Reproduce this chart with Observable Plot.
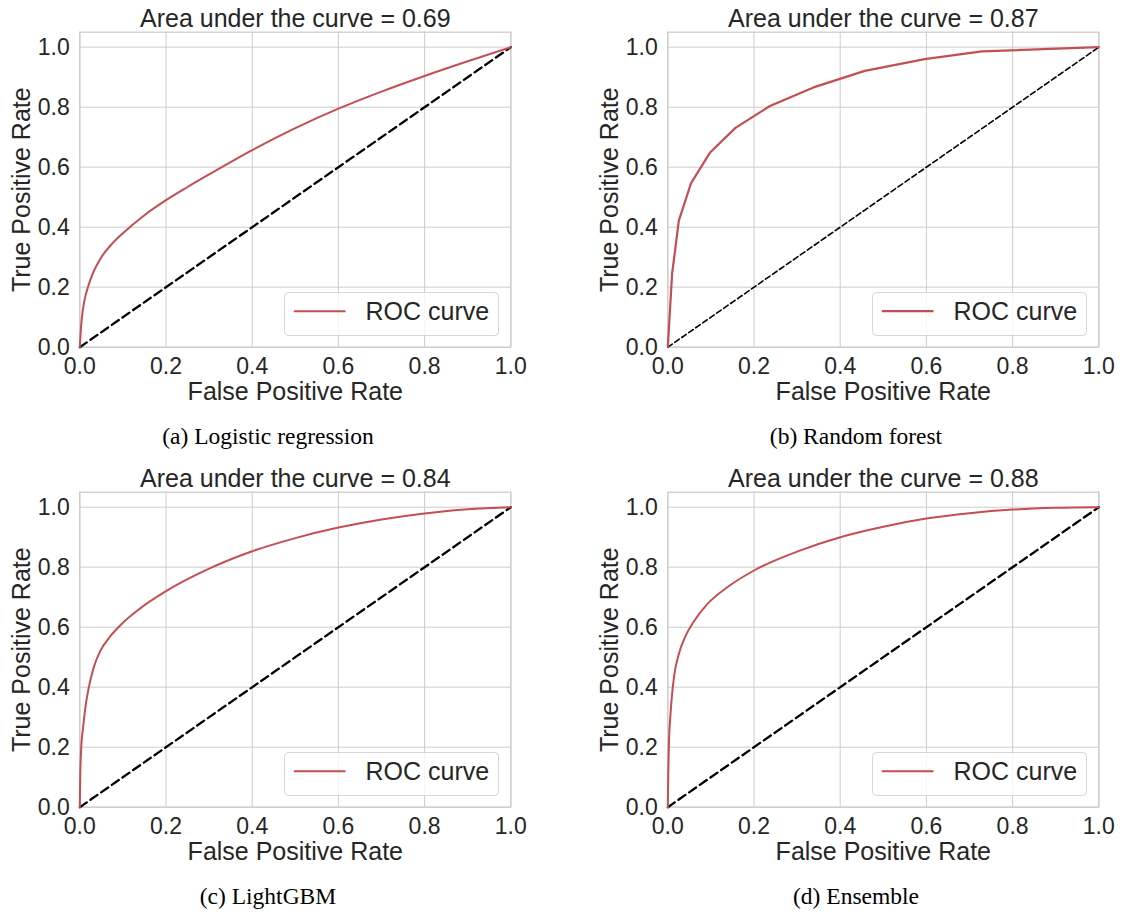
<!DOCTYPE html>
<html>
<head>
<meta charset="utf-8">
<script src="https://cdn.jsdelivr.net/npm/d3@7"></script>
<script src="https://cdn.jsdelivr.net/npm/@observablehq/plot@0.6"></script>
<style>
html, body { margin: 0; padding: 0; background: #ffffff; }
#fig { position: relative; width: 1123px; height: 912px; overflow: hidden; background: #ffffff; }
.panel { position: absolute; width: 535px; height: 460px; }
.panel svg { max-width: none !important; }
.cap { position: absolute; font-family: "Liberation Serif", "Times New Roman", serif; font-size: 23.5px; line-height: 20px; color: #000; text-align: center; white-space: nowrap; }
.leg { position: absolute; }
</style>
</head>
<body>
<div id="fig"></div>
<script>
// ---------- data ----------
const xTicks = [0, 0.2, 0.4, 0.6, 0.8, 1.0];
const yTicks = [0, 0.2, 0.4, 0.6, 0.8, 1.0];
const chanceFpr = [0, 1];
const chanceTpr = [0, 1];

const titles = [
  "Area under the curve = 0.69",
  "Area under the curve = 0.87",
  "Area under the curve = 0.84",
  "Area under the curve = 0.88"
];
const captions = ["(a) Logistic regression", "(b) Random forest", "(c) LightGBM", "(d) Ensemble"];
const legendLabel = "ROC curve";
const xLabel = "False Positive Rate";
const yLabel = "True Positive Rate";

// (a) Logistic regression
const lrFpr = [0, 0.002, 0.005, 0.01, 0.02, 0.03, 0.05, 0.075, 0.1, 0.15, 0.2, 0.25, 0.3, 0.4, 0.5, 0.6, 0.7, 0.8, 0.9, 1.0];
const lrTpr = [0, 0.05, 0.10, 0.15, 0.205, 0.245, 0.30, 0.345, 0.38, 0.44, 0.49, 0.534, 0.576, 0.657, 0.730, 0.795, 0.852, 0.904, 0.953, 1.0];

// (b) Random forest
const rfFpr = [0, 0.010, 0.0256, 0.054, 0.0975, 0.157, 0.237, 0.338, 0.457, 0.596, 0.729, 1.0];
const rfTpr = [0, 0.245, 0.422, 0.547, 0.648, 0.731, 0.804, 0.866, 0.921, 0.960, 0.986, 1.0];

// (c) LightGBM
const lgbFpr = [0, 0.001, 0.003, 0.008, 0.013, 0.021, 0.0325, 0.048, 0.071, 0.1, 0.133, 0.2, 0.3, 0.4, 0.5, 0.6, 0.7, 0.8, 0.9, 1.0];
const lgbTpr = [0, 0.10, 0.19, 0.27, 0.333, 0.40, 0.467, 0.522, 0.57, 0.615, 0.655, 0.72, 0.795, 0.853, 0.897, 0.932, 0.959, 0.979, 0.993, 1.0];

// (d) Ensemble
const ensFpr = [0, 0.001, 0.0024, 0.0063, 0.010, 0.0155, 0.0256, 0.041, 0.06, 0.091, 0.138, 0.2, 0.308, 0.4, 0.5, 0.6, 0.7, 0.8, 0.9, 1.0];
const ensTpr = [0, 0.10, 0.20, 0.311, 0.378, 0.445, 0.511, 0.57, 0.618, 0.676, 0.733, 0.789, 0.856, 0.90, 0.935, 0.962, 0.98, 0.992, 0.998, 1.0];

// ---------- drawing ----------
const FONT = "'Liberation Sans', Arial, Helvetica, sans-serif";
const INK = "#262626";
const RED = "#c44e52";
const GRID = "#cccccc";

const fig = document.getElementById("fig");

function toRows(xs, ys) { return xs.map((x, i) => ({fpr: x, tpr: ys[i]})); }

function panel(cfg) {
  const {fpr, tpr, curve, title, caption, left, top, rocWidth, diagWidth, dash, capCenter} = cfg;
  const roc = toRows(fpr, tpr);
  const chance = toRows(chanceFpr, chanceTpr);
  const svg = Plot.plot({
    width: 535,
    height: 460,
    marginLeft: 79.3,
    marginRight: 24.7,
    marginTop: 31.7,
    marginBottom: 113.3,
    style: {fontFamily: FONT, color: INK, background: "transparent", overflow: "visible"},
    x: {domain: [0, 1], label: null},
    y: {domain: [0, 1.05], label: null},
    marks: [
      Plot.gridX(xTicks, {stroke: GRID, strokeOpacity: 1, strokeWidth: 1}),
      Plot.gridY(yTicks, {stroke: GRID, strokeOpacity: 1, strokeWidth: 1}),
      Plot.frame({stroke: GRID, strokeWidth: 1.25}),
      Plot.axisX(xTicks, {anchor: "bottom", tickSize: 0, tickPadding: 10, tickFormat: d3.format(".1f"), fontSize: 23, label: null}),
      Plot.axisY(yTicks, {anchor: "left", tickSize: 0, tickPadding: 10, tickFormat: d3.format(".1f"), fontSize: 23, label: null}),
      Plot.line(chance, {x: "fpr", y: "tpr", stroke: "#000000", strokeWidth: diagWidth, strokeDasharray: dash}),
      Plot.line(roc, {x: "fpr", y: "tpr", stroke: RED, strokeWidth: rocWidth, curve}),
      Plot.text([xLabel], {text: d => d, frameAnchor: "bottom", dy: 52.3, lineAnchor: "bottom", textAnchor: "middle", fontSize: 25, fill: INK}),
      Plot.text([yLabel], {text: d => d, frameAnchor: "left", dx: -68, rotate: -90, lineAnchor: "top", textAnchor: "middle", fontSize: 25, fill: INK}),
      Plot.text([title], {text: d => d, frameAnchor: "top", dy: -5.5, lineAnchor: "bottom", textAnchor: "middle", fontSize: 25, fill: INK})
    ]
  });
  const wrap = document.createElement("div");
  wrap.className = "panel";
  wrap.style.left = left + "px";
  wrap.style.top = top + "px";
  wrap.appendChild(svg);
  fig.appendChild(wrap);

  // legend box (matplotlib-style, lower right)
  const leg = d3.create("svg")
    .attr("class", "leg")
    .attr("width", 216).attr("height", 46)
    .style("left", (left + 283.5) + "px")
    .style("top", (top + 291.8) + "px");
  leg.append("rect")
    .attr("x", 0.5).attr("y", 0.5).attr("width", 214).attr("height", 43).attr("rx", 4)
    .attr("fill", "#ffffff").attr("fill-opacity", 0.8)
    .attr("stroke", "#d6d6d6").attr("stroke-width", 1);
  leg.append("line")
    .attr("x1", 9.8).attr("x2", 61.5).attr("y1", 19.2).attr("y2", 19.2)
    .attr("stroke", RED).attr("stroke-width", rocWidth);
  leg.append("text")
    .attr("x", 81.5).attr("y", 28.2)
    .attr("font-family", FONT).attr("font-size", 25).attr("fill", INK)
    .text(legendLabel);
  fig.appendChild(leg.node());

  // sub-figure caption
  const cap = document.createElement("div");
  cap.className = "cap";
  cap.textContent = caption;
  cap.style.left = (capCenter - 200) + "px";
  cap.style.width = "400px";
  cap.style.top = (top + 426) + "px";
  fig.appendChild(cap);
}

panel({fpr: lrFpr, tpr: lrTpr, curve: "monotone-x", title: titles[0], caption: captions[0],
  left: 0, top: 0, rocWidth: 2, diagWidth: 2.3, dash: "8.5,4.5", capCenter: 268});
panel({fpr: rfFpr, tpr: rfTpr, curve: "linear", title: titles[1], caption: captions[1],
  left: 588, top: 0, rocWidth: 2.2, diagWidth: 1.6, dash: "5.5,3", capCenter: 856});
panel({fpr: lgbFpr, tpr: lgbTpr, curve: "monotone-x", title: titles[2], caption: captions[2],
  left: 0, top: 460, rocWidth: 2, diagWidth: 2.3, dash: "8.5,4.5", capCenter: 268});
panel({fpr: ensFpr, tpr: ensTpr, curve: "monotone-x", title: titles[3], caption: captions[3],
  left: 588, top: 460, rocWidth: 2, diagWidth: 2.3, dash: "8.5,4.5", capCenter: 856});
</script>
</body>
</html>
